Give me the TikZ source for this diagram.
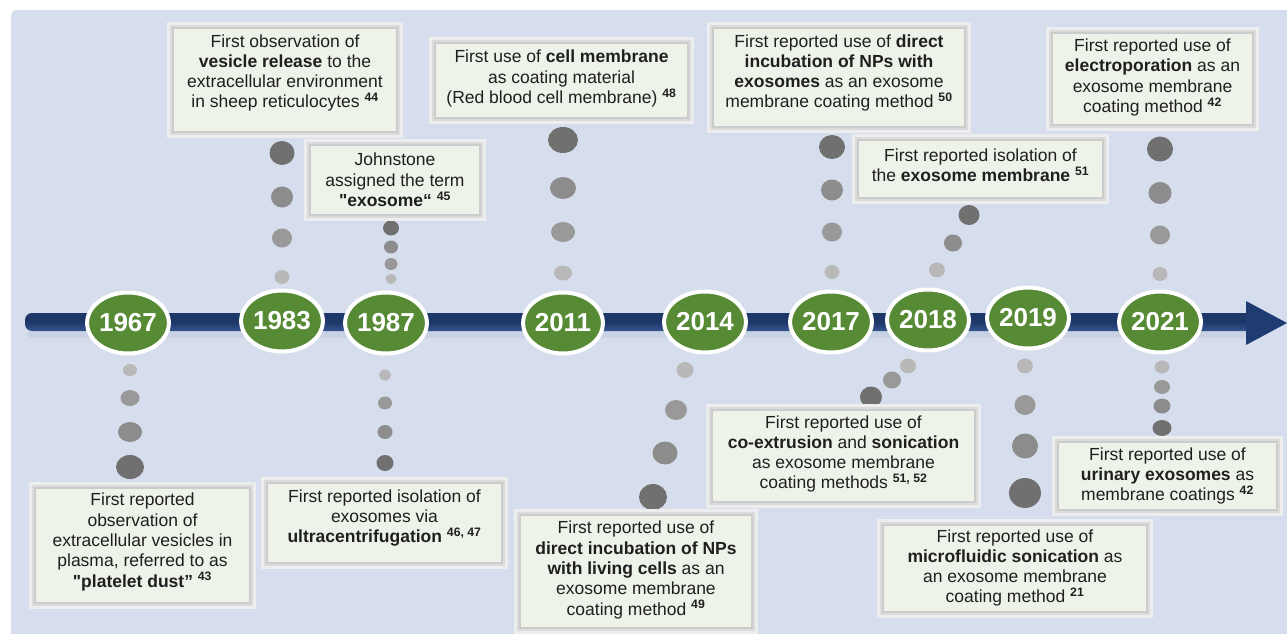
\documentclass[tikz,border=0pt]{standalone}
\usepackage{fontspec}
\setmainfont{Liberation Sans}
\usetikzlibrary{shapes.geometric}
\definecolor{bg}{HTML}{D6DEEE}
\definecolor{boxfill}{HTML}{EEF3E9}
\definecolor{yeargreen}{HTML}{578A34}
\definecolor{barbot}{HTML}{36558F}
\definecolor{barmid}{HTML}{1D3769}
\definecolor{arrowc}{HTML}{1E3C72}
\definecolor{barshadow}{HTML}{C9D2E4}
\newcommand\refn[1]{\textsuperscript{\bfseries #1}}
\tikzset{
  tbox/.style={rectangle, inner sep=0pt, fill=boxfill,
    preaction={draw=black!7, line width=12pt},
    preaction={draw=black!14, line width=6pt},
    draw=black!20, line width=1.2pt},
  txt/.style={align=center, inner sep=0pt, text=black!88,
    font=\fontsize{17.5}{20.3}\selectfont},
  year/.style={ellipse, fill=yeargreen, draw=white, line width=4pt,
    minimum width=75pt, minimum height=61pt, inner sep=0pt, text=white,
    font=\bfseries\fontsize{26}{26}\selectfont},
  dA/.style={fill=black!56},
  dB/.style={fill=black!45},
  dC/.style={fill=black!40},
  dD/.style={fill=black!28},
}
\begin{document}
\begin{tikzpicture}[x=1pt,y=-1pt]
\useasboundingbox (0,0) rectangle (1287,634);
% background panel
\fill[bg, rounded corners=6pt] (11,10) rectangle (1300,650);
% timeline bar
\fill[barshadow, rounded corners=6pt] (27,330) rectangle (1250,338);
\shade[top color=barmid, bottom color=barbot, middle color=barmid, rounded corners=7pt]
  (25,313) rectangle (1252,331);
\fill[arrowc] (1246,301) -- (1287,323) -- (1246,345) -- cycle;
% dots above
\fill[dA] (282,153) ellipse (12.5 and 12);
\fill[dB] (282,197) ellipse (11 and 10.5);
\fill[dC] (282,238) ellipse (10 and 9.5);
\fill[dD] (282,277) ellipse (7.5 and 7);
\fill[dA] (391,228) ellipse (8 and 7.5);
\fill[dB] (391,247) ellipse (7 and 6.5);
\fill[dC] (391,264) ellipse (6.5 and 6);
\fill[dD] (391,279) ellipse (5.5 and 5);
\fill[dA] (563,140) ellipse (15 and 13);
\fill[dB] (563,188) ellipse (13 and 11);
\fill[dC] (563,232) ellipse (12 and 10);
\fill[dD] (563,273) ellipse (9 and 7.5);
\fill[dA] (832,147) ellipse (13 and 12);
\fill[dB] (832,190) ellipse (11 and 10.5);
\fill[dC] (832,232) ellipse (10 and 9.5);
\fill[dD] (832,272) ellipse (7.5 and 7);
\fill[dA] (969,215) ellipse (10.5 and 10);
\fill[dB] (953,243) ellipse (9 and 8.5);
\fill[dD] (937,270) ellipse (8 and 7.5);
\fill[dA] (1160,149) ellipse (13 and 12.5);
\fill[dB] (1160,193) ellipse (11.5 and 11);
\fill[dC] (1160,235) ellipse (10 and 9.5);
\fill[dD] (1160,274) ellipse (7.5 and 7);
% dots below
\fill[dD] (130,370) ellipse (7 and 6);
\fill[dC] (130,398) ellipse (9.5 and 8);
\fill[dB] (130,432) ellipse (12 and 10);
\fill[dA] (130,467) ellipse (14 and 12);
\fill[dD] (385,375) ellipse (6 and 5.5);
\fill[dC] (385,403) ellipse (7 and 6.5);
\fill[dB] (385,432) ellipse (7.5 and 7);
\fill[dA] (385,463) ellipse (8.5 and 8);
\fill[dD] (685,370) ellipse (8.5 and 8);
\fill[dC] (676,410) ellipse (11 and 10);
\fill[dB] (665,453) ellipse (12.5 and 11.5);
\fill[dA] (653,497) ellipse (14 and 13);
\fill[dD] (908,366) ellipse (8 and 7.5);
\fill[dC] (892,380) ellipse (9 and 8.5);
\fill[dA] (871,397) ellipse (11 and 10.5);
\fill[dD] (1025,366) ellipse (8 and 7.5);
\fill[dC] (1025,405) ellipse (10.5 and 10);
\fill[dB] (1025,446) ellipse (13 and 12.5);
\fill[dA] (1025,493) ellipse (16 and 15);
\fill[dD] (1162,367) ellipse (7.5 and 6.5);
\fill[dC] (1162,387) ellipse (8 and 7);
\fill[dB] (1162,406) ellipse (8.5 and 7.5);
\fill[dA] (1162,428) ellipse (9.5 and 8);
% year ovals
\node[year] (y1967) at (128,323) {1967};
\node[year] (y1983) at (282,321) {1983};
\node[year] (y1987) at (386,323) {1987};
\node[year] (y2011) at (563,323) {2011};
\node[year] (y2014) at (705,322) {2014};
\node[year] (y2017) at (831,322) {2017};
\node[year] (y2018) at (928,320) {2018};
\node[year] (y2019) at (1028,318) {2019};
\node[year] (y2021) at (1160,322) {2021};
% boxes
\node[tbox, minimum width=224pt, minimum height=104pt] (b1) at (285,80) {};
\node[tbox, minimum width=170pt, minimum height=70pt] (b2) at (395,180) {};
\node[tbox, minimum width=253pt, minimum height=75pt] (b3) at (561.5,80.5) {};
\node[tbox, minimum width=252pt, minimum height=99pt] (b4) at (839,77.5) {};
\node[tbox, minimum width=245pt, minimum height=58pt] (b5) at (980.5,169) {};
\node[tbox, minimum width=201pt, minimum height=92pt] (b6) at (1152.5,79) {};
\node[tbox, minimum width=215pt, minimum height=115pt] (b7) at (142.5,545.5) {};
\node[tbox, minimum width=235pt, minimum height=80pt] (b8) at (384.5,523) {};
\node[tbox, minimum width=232pt, minimum height=113pt] (b9) at (636,571.5) {};
\node[tbox, minimum width=263pt, minimum height=92pt] (b10) at (843.5,456) {};
\node[tbox, minimum width=219pt, minimum height=68pt] (b11) at (1167.5,476) {};
\node[tbox, minimum width=264pt, minimum height=87pt] (b12) at (1015,568.5) {};
% texts
\node[txt] (t1) at (285,73) {First observation of\\ \textbf{vesicle release} to the\\ extracellular environment\\ in sheep reticulocytes \refn{44}};
\node[txt] (t2) at (395,180) {Johnstone\\ assigned the term\\ \textbf{\textquotedbl exosome“} \refn{45}};
\node[txt] (t3) at (561.5,78.5) {First use of \textbf{cell membrane}\\ as coating material\\ (Red blood cell membrane) \refn{48}};
\node[txt] (t4) at (839,73) {First reported use of \textbf{direct}\\ \textbf{incubation of NPs with}\\ \textbf{exosomes} as an exosome\\ membrane coating method \refn{50}};
\node[txt] (t5) at (980.5,165) {First reported isolation of\\ the \textbf{exosome membrane} \refn{51}};
\node[txt] (t6) at (1152.5,77.5) {First reported use of\\ \textbf{electroporation} as an\\ exosome membrane\\ coating method \refn{42}};
\node[txt] (t7) at (142.5,542) {First reported\\ observation of\\ extracellular vesicles in\\ plasma, referred to as\\ \textbf{\textquotedbl platelet dust”} \refn{43}};
\node[txt] (t8) at (384.5,518) {First reported isolation of\\ exosomes via\\ \textbf{ultracentrifugation} \refn{46, 47}};
\node[txt] (t9) at (636,570) {First reported use of\\ \textbf{direct incubation of NPs}\\ \textbf{with living cells} as an\\ exosome membrane\\ coating method \refn{49}};
\node[txt] (t10) at (843.5,454) {First reported use of\\ \textbf{co-extrusion} and \textbf{sonication}\\ as exosome membrane\\ coating methods \refn{51, 52}};
\node[txt] (t11) at (1167.5,476) {First reported use of\\ \textbf{urinary exosomes} as\\ membrane coatings \refn{42}};
\node[txt] (t12) at (1015,568) {First reported use of\\ \textbf{microfluidic sonication} as\\ an exosome membrane\\ coating method \refn{21}};
\end{tikzpicture}
\end{document}
